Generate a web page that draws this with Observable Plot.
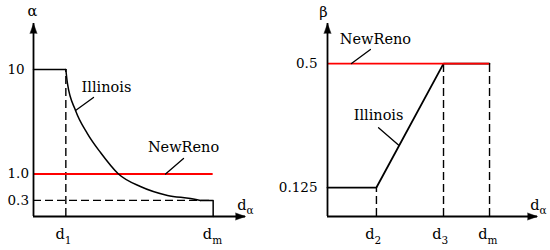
<!DOCTYPE html>
<html><head><meta charset="utf-8">
<script src="https://cdn.jsdelivr.net/npm/d3@7"></script>
<script src="https://cdn.jsdelivr.net/npm/@observablehq/plot@0.6"></script>
<style>
body{margin:0;background:#fff;}
#chart{display:flex;width:550px;height:250px;background:#fff;}
#chart svg{font-family:"DejaVu Serif",serif;}
</style></head><body><div id="chart"></div>
<script>
// ---------- Left panel: alpha ----------
const alphaTickValues = [10, 1.0, 0.3];
const alphaTickLabels = ["10", "1.0", "0.3"];
const alphaXTickValues = [0.18, 1.0];
const alphaXTickSubs = ["1", "m"];
const alphaXMax = 1.18;
const alphaYMax = 22.3;
const alphaD1 = 0.18;
const alphaDm = 1.0;
const illinoisAlphaFlatX = [0, 0.18];
const illinoisAlphaFlatY = [10, 10];
const illinoisAlphaCurveX = [0.18, 0.189, 0.234, 0.3, 0.373, 0.473, 0.595, 0.746, 0.874, 0.93];
const illinoisAlphaCurveY = [10, 7.76, 4.64, 2.87, 1.84, 1.0, 0.63, 0.41, 0.34, 0.3];
const illinoisAlphaTailX = [0.93, 1.0, 1.0];
const illinoisAlphaTailY = [0.3, 0.3, 0];
const newRenoAlpha = 1.0;
const alphaMin = 0.3;
const alphaMax = 10;
// annotation anchors (data units)
const alphaIllinoisLabel = {x: 0.406, y: 6.56};
const alphaIllinoisLeaderX = [0.334, 0.234];
const alphaIllinoisLeaderY = [5.97, 4.64];
const alphaNewRenoLabel = {x: 0.835, y: 1.887};
const alphaNewRenoLeaderX = [0.835, 0.735];
const alphaNewRenoLeaderY = [1.576, 1.0];

// ---------- Right panel: beta ----------
const betaTickValues = [0.5, 0.125];
const betaTickLabels = ["0.5", "0.125"];
const betaXTickValues = [0.302, 0.716, 1.0];
const betaXTickSubs = ["2", "3", "m"];
const betaXMax = 1.296;
const betaYMax = 0.607;
const illinoisBetaX = [0, 0.302, 0.716, 1.0];
const illinoisBetaY = [0.125, 0.125, 0.5, 0.5];
const newRenoBeta = 0.5;
const betaIllinoisLabel = {x: 0.315, y: 0.342};
const betaIllinoisLeaderX = [0.315, 0.438];
const betaIllinoisLeaderY = [0.318, 0.265];
const betaNewRenoLabel = {x: 0.296, y: 0.554};
const betaNewRenoLeaderX = [0.265, 0.148];
const betaNewRenoLeaderY = [0.538, 0.5];

const RED = "#ff0000";
const AX = 1.8;
const DASH = "8,4";
const LABEL_FS = 14.5;
const TICK_FS = 13.5;

const zip = (xs, ys) => xs.map((x, i) => ({x, y: ys[i]}));

function axesMarks(xMax, yMax) {
  return [
    Plot.ruleX([0], {y1: 0, y2: yMax, strokeWidth: AX, stroke: "black"}),
    Plot.ruleY([0], {x1: 0, x2: xMax, strokeWidth: AX, stroke: "black"}),
    Plot.vector([{x: 0, y: yMax}], {x: "x", y: "y", length: 10, rotate: 0, shape: "spike", r: 3.5, anchor: "end", fill: "black", stroke: "black", strokeWidth: 0.5}),
    Plot.vector([{x: xMax, y: 0}], {x: "x", y: "y", length: 10, rotate: 90, shape: "spike", r: 3.5, anchor: "end", fill: "black", stroke: "black", strokeWidth: 0.5})
  ];
}

function xTickLabels(values, subs, dx) {
  const data = values.map((v, i) => ({x: v, sub: subs[i]}));
  return [
    Plot.text(data, {x: "x", y: 0, text: () => "d", textAnchor: "end", lineAnchor: "bottom", dx: dx, dy: 22, fontSize: LABEL_FS, fill: "black"}),
    Plot.text(data, {x: "x", y: 0, text: "sub", textAnchor: "start", lineAnchor: "bottom", dx: dx, dy: 27, fontSize: 10.5, fill: "black"})
  ];
}

function axisEndLabel(xMax, dx) {
  return [
    Plot.text([{x: xMax}], {x: "x", y: 0, text: () => "d", textAnchor: "end", lineAnchor: "bottom", dx: dx, dy: -7, fontSize: LABEL_FS, fill: "black"}),
    Plot.text([{x: xMax}], {x: "x", y: 0, text: () => "α", textAnchor: "start", lineAnchor: "bottom", dx: dx, dy: -3, fontSize: 10.5, fill: "black"})
  ];
}

const left = Plot.plot({
  width: 275, height: 250,
  marginLeft: 33, marginRight: 30, marginTop: 23, marginBottom: 34,
  style: {background: "white", overflow: "visible"},
  x: {domain: [0, alphaXMax], axis: null},
  y: {type: "symlog", constant: 1, domain: [0, alphaYMax], axis: null},
  marks: [
    Plot.ruleX([alphaD1], {y1: 0, y2: alphaMax, stroke: "black", strokeWidth: 1.4, strokeDasharray: DASH}),
    Plot.ruleY([alphaMin], {x1: 0, x2: alphaDm, stroke: "black", strokeWidth: 1.4, strokeDasharray: DASH}),
    Plot.ruleY([newRenoAlpha], {x1: 0, x2: alphaDm, stroke: RED, strokeWidth: 1.8}),
    Plot.line(zip(illinoisAlphaFlatX, illinoisAlphaFlatY), {x: "x", y: "y", stroke: "black", strokeWidth: 1.5}),
    Plot.line(zip(illinoisAlphaCurveX, illinoisAlphaCurveY), {x: "x", y: "y", stroke: "black", strokeWidth: 1.5, curve: "monotone-x"}),
    Plot.line(zip(illinoisAlphaTailX, illinoisAlphaTailY), {x: "x", y: "y", stroke: "black", strokeWidth: 1.5}),
    ...axesMarks(alphaXMax, alphaYMax),
    Plot.line(zip(alphaIllinoisLeaderX, alphaIllinoisLeaderY), {x: "x", y: "y", stroke: "black", strokeWidth: 1.3}),
    Plot.line(zip(alphaNewRenoLeaderX, alphaNewRenoLeaderY), {x: "x", y: "y", stroke: "black", strokeWidth: 1.3}),
    Plot.text([alphaIllinoisLabel], {x: "x", y: "y", text: () => "Illinois", lineAnchor: "bottom", fontSize: LABEL_FS, fill: "black"}),
    Plot.text([alphaNewRenoLabel], {x: "x", y: "y", text: () => "NewReno", lineAnchor: "bottom", fontSize: LABEL_FS, fill: "black"}),
    Plot.text(alphaTickValues.map((v, i) => ({y: v, t: alphaTickLabels[i]})), {x: 0, y: "y", text: "t", textAnchor: "start", lineAnchor: "middle", dx: -26, fontSize: TICK_FS, fill: "black"}),
    Plot.text([{y: alphaYMax}], {x: 0, y: "y", text: () => "α", lineAnchor: "bottom", dx: -1, dy: -8, fontSize: LABEL_FS, fill: "black"}),
    ...xTickLabels(alphaXTickValues, alphaXTickSubs, -1),
    ...axisEndLabel(alphaXMax, 1)
  ]
});

const right = Plot.plot({
  width: 275, height: 250,
  marginLeft: 52, marginRight: 13, marginTop: 23, marginBottom: 34,
  style: {background: "white", overflow: "visible"},
  x: {domain: [0, betaXMax], axis: null},
  y: {type: "pow", exponent: 1.2, domain: [0, betaYMax], axis: null},
  marks: [
    Plot.ruleX(betaXTickValues.map((v, i) => ({x: v, y: illinoisBetaY[i + 1]})), {x: "x", y1: 0, y2: "y", stroke: "black", strokeWidth: 1.4, strokeDasharray: DASH}),
    Plot.line(zip(illinoisBetaX, illinoisBetaY), {x: "x", y: "y", stroke: "black", strokeWidth: 1.8}),
    Plot.ruleY([newRenoBeta], {x1: 0, x2: 1.0, stroke: RED, strokeWidth: 1.8}),
    ...axesMarks(betaXMax, betaYMax),
    Plot.line(zip(betaIllinoisLeaderX, betaIllinoisLeaderY), {x: "x", y: "y", stroke: "black", strokeWidth: 1.3}),
    Plot.line(zip(betaNewRenoLeaderX, betaNewRenoLeaderY), {x: "x", y: "y", stroke: "black", strokeWidth: 1.3}),
    Plot.text([betaIllinoisLabel], {x: "x", y: "y", text: () => "Illinois", lineAnchor: "bottom", fontSize: LABEL_FS, fill: "black"}),
    Plot.text([betaNewRenoLabel], {x: "x", y: "y", text: () => "NewReno", lineAnchor: "bottom", fontSize: LABEL_FS, fill: "black"}),
    Plot.text(betaTickValues.map((v, i) => ({y: v, t: betaTickLabels[i]})), {x: 0, y: "y", text: "t", textAnchor: "end", lineAnchor: "middle", dx: -10, fontSize: TICK_FS, fill: "black"}),
    Plot.text([{y: betaYMax}], {x: 0, y: "y", text: () => "β", lineAnchor: "bottom", dx: -4, dy: -7, fontSize: LABEL_FS, fill: "black"}),
    ...xTickLabels(betaXTickValues, betaXTickSubs, -2),
    ...axisEndLabel(betaXMax, 2)
  ]
});

document.getElementById("chart").append(left, right);
</script></body></html>
